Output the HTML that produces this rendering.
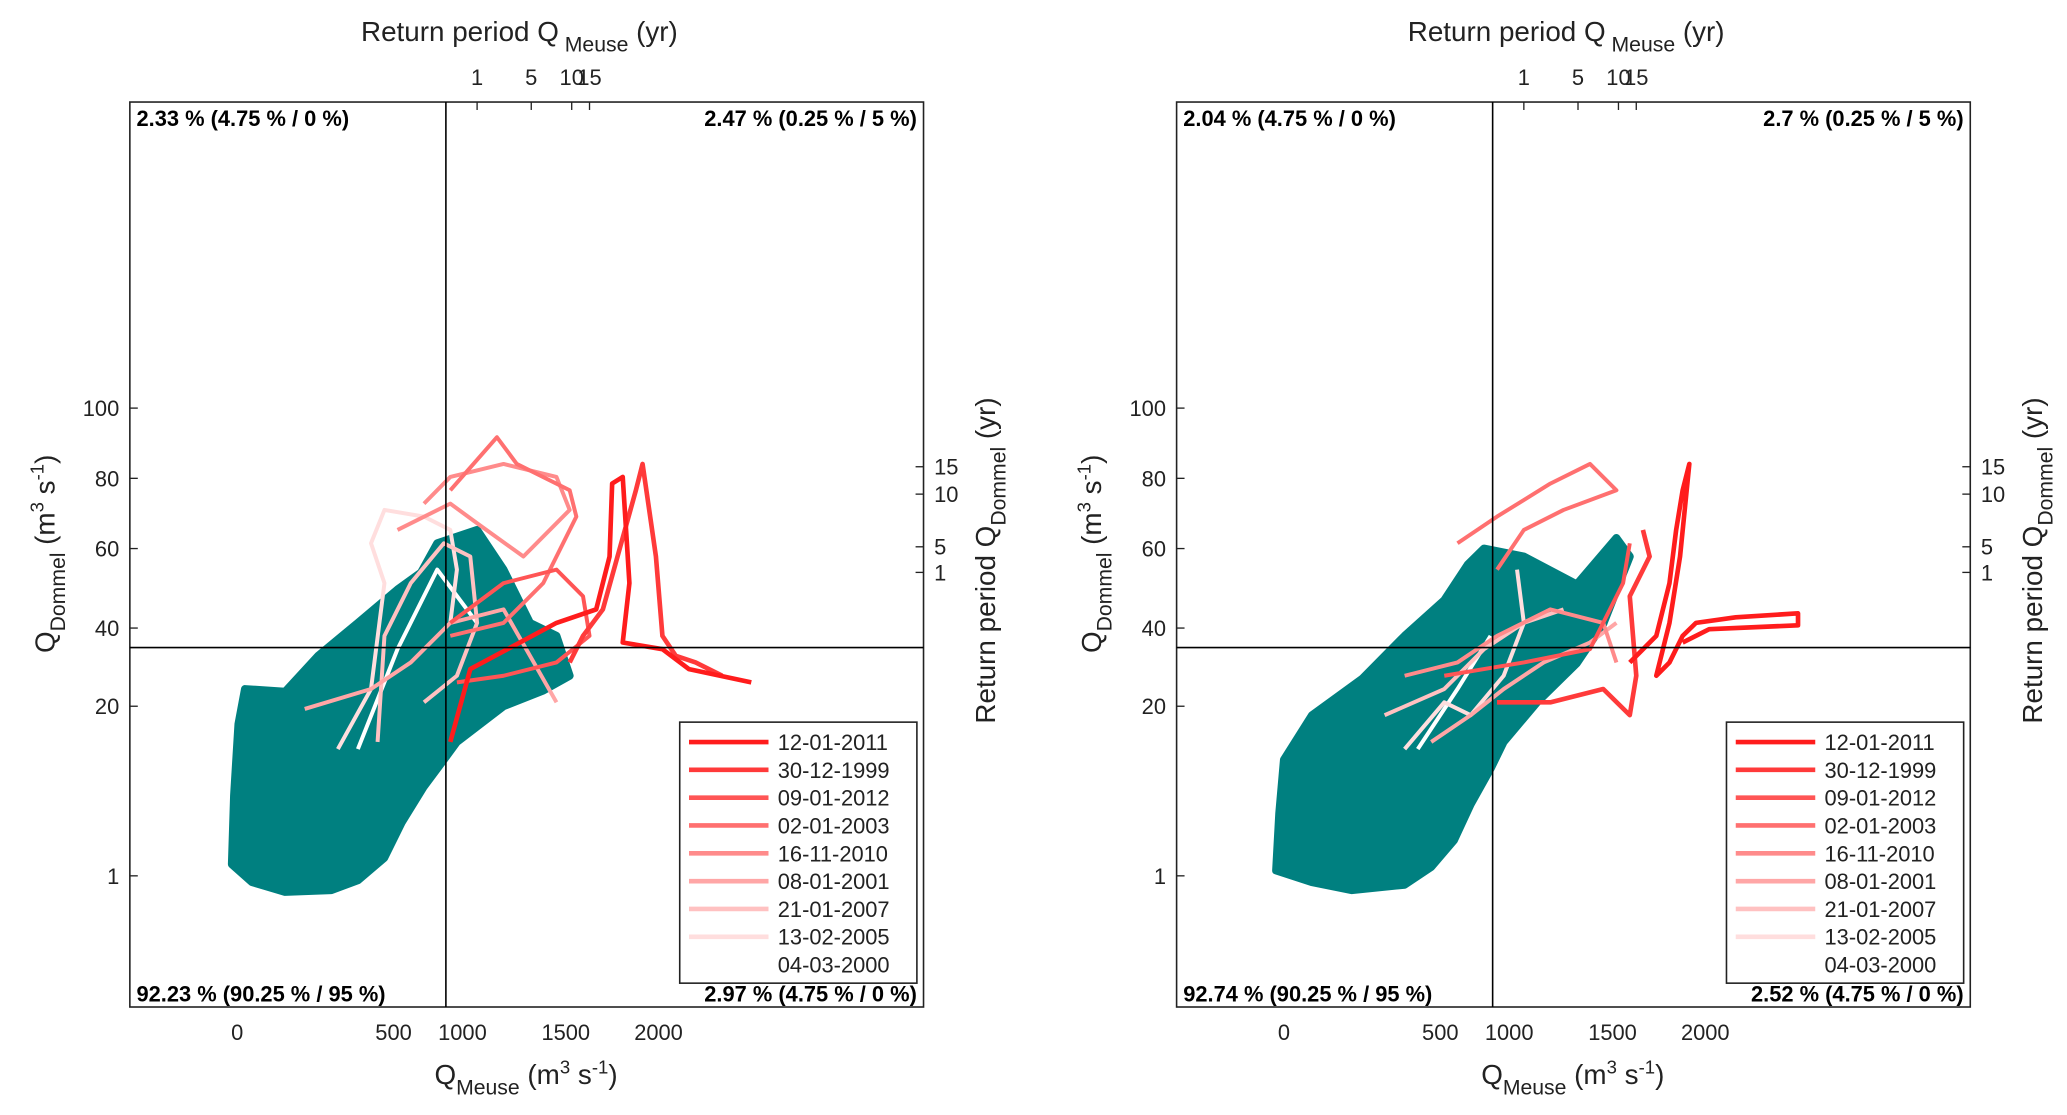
<!DOCTYPE html>
<html><head><meta charset="utf-8"><style>
html,body{margin:0;padding:0;background:#fff;}
svg{display:block;font-family:"Liberation Sans",Arial,sans-serif;}
</style></head><body>
<svg id="fig" width="2067" height="1115" viewBox="0 0 1560 841.5"></svg>
<script>
// ---- data ----
const xTickValues=[0,500,1000,1500,2000];
const xTickLabels=["0","500","1000","1500","2000"];
const yTickValues=[1,20,40,60,80,100];
const yTickLabels=["1","20","40","60","80","100"];
const topTickLabels=["1","5","10","15"];
const topTickValues=[1071,1333,1532,1628];
const rightTickLabels=["15","10","5","1"];
const rightTickValues=[83.3,75.5,60.5,54];
const eventNames=["12-01-2011","30-12-1999","09-01-2012","02-01-2003","16-11-2010","08-01-2001","21-01-2007","13-02-2005","04-03-2000"];
const eventColors=["#ff1c1c","#ff3a3a","#ff5555","#ff7070","#ff8b8b","#ffa6a6","#ffc1c1","#ffdede","#ffffff"];
const leftCorners=["2.33 % (4.75 % / 0 %)","2.47 % (0.25 % / 5 %)","92.23 % (90.25 % / 95 %)","2.97 % (4.75 % / 0 %)"];
const rightCorners=["2.04 % (4.75 % / 0 %)","2.7 % (0.25 % / 5 %)","92.74 % (90.25 % / 95 %)","2.52 % (4.75 % / 0 %)"];
const thresholdQMeuse=880;
const thresholdQDommel=35;
const leftCloud=[[-17,2.3],[-10,10],[4,18],[25,24.4],[153,23.7],[259,32.9],[386,41.3],[529,49.7],[700,54],[817,61.5],[1071,65.3],[1199,54.7],[1327,41.3],[1455,38],[1521,27.8],[1391,24],[1199,20],[960,16],[865,14],[720,11],[560,7],[470,3],[386,0.5],[301,-0.6],[153,-0.8],[47,0.3]];
const rightCloud=[[-25,1.6],[-15,8],[0,14],[90,19],[250,27],[386,38],[529,47],[700,56],[817,60],[1071,58],[1327,51],[1521,63],[1593,58],[1455,41],[1327,31],[1135,21],[960,16],[865,13],[720,9],[600,5],[471,2],[386,0],[216,-0.6],[89,0.3]];
const leftEvents=[
 [[912,16],[1038,29.5],[1455,41.3],[1664,44.7],[1736,58],[1750,78.5],[1807,80.4],[1843,51.3],[1807,36.3],[2021,34.6],[2164,29.5],[2500,26.1]],
 [[1521,31.2],[1593,38],[1700,44.7],[1878,76.6],[1914,84.1],[1986,58],[2021,38],[2093,32.9],[2200,31.2],[2343,27.8]],
 [[912,41.3],[1199,51.3],[1455,54.7],[1593,48],[1628,38],[1455,31.2],[1199,27.8],[960,26.1]],
 [[912,76.6],[1167,91.7],[1263,84.1],[1521,76.6],[1557,69.1],[1391,51.3],[1199,41.3],[912,38]],
 [[529,65.3],[912,72.8],[1071,67.2],[1295,58],[1521,71],[1455,80.4],[1199,84.1],[912,80.4],[721,72.8]],
 [[216,19.7],[428,24.4],[625,31.2],[912,41.3],[1199,44.7],[1455,21]],
 [[449,16],[471,38],[625,51.3],[865,61.5],[1038,58],[1071,41.3],[960,27.8],[721,21]],
 [[322,15.2],[428,24.4],[471,51.3],[428,61.5],[471,71],[721,69.1],[912,65.3],[960,54.7],[912,41.3]],
 [[386,15.2],[529,34.6],[817,54.7],[1071,41.3]]];
const rightEvents=[
 [[1593,31.2],[1736,38],[1807,51.3],[1843,65.3],[1878,76.6],[1914,84.1],[1864,58],[1807,41.3],[1736,27.8],[1807,31.2],[1878,38],[1950,41.3],[2164,42.7],[2500,43.7],[2500,40.7],[2021,39.7],[1878,36.3]],
 [[912,21],[1199,21],[1455,24.4],[1593,19],[1628,27.8],[1593,48],[1700,58],[1664,65.3]],
 [[529,27.8],[817,29.5],[1071,31.2],[1391,34.6],[1557,51.3],[1593,61.5]],
 [[625,61.5],[912,69.1],[1199,78.5],[1391,84.1],[1521,76.6],[1263,71],[1071,65.3],[912,54.7]],
 [[386,27.8],[625,31.2],[912,38],[1199,44.7],[1455,41.3],[1521,31.2]],
 [[471,16],[721,19],[960,24.4],[1167,31.2],[1391,36.3],[1521,41.3]],
 [[322,19],[529,24.4],[817,34.6],[1071,41.3],[1263,44.7]],
 [[386,15.2],[529,21],[721,19],[960,27.8],[1071,41.3],[1038,54.7]],
 [[428,15.2],[625,24.4],[865,38]]];

// ---- scales (piecewise, matching the reference's axis) ----
const xPix=[179,297,349,427,497];
const yPix=[661,533,474,414,361,308];
function pw(v,vals,pix){
  let i=0; if(v>vals[vals.length-1]) i=vals.length-2; else {while(i<vals.length-2 && v>vals[i+1]) i++;}
  return pix[i]+(v-vals[i])*(pix[i+1]-pix[i])/(vals[i+1]-vals[i]);
}
const NS="http://www.w3.org/2000/svg";
const svg=document.getElementById('fig');
function mk(tag,attrs,parent){const e=document.createElementNS(NS,tag);for(const k in attrs)e.setAttribute(k,attrs[k]);(parent||svg).appendChild(e);return e;}
function txt(s,x,y,size,anchor,parent,weight){const t=mk('text',{x:x,y:y,'font-size':size,'text-anchor':anchor||'middle',fill:'#222'},parent);if(weight)t.setAttribute('font-weight',weight);t.textContent=s;return t;}

function panel(off,cloud,events,corners,id){
  const g=mk('g',{transform:'translate('+off+',0)'});
  
  
  const X=v=>pw(v,xTickValues,xPix), Y=v=>pw(v,yTickValues,yPix);
  const c=mk('polygon',{points:cloud.map(p=>X(p[0])+','+Y(p[1])).join(' '),fill:'#008080',stroke:'#008080','stroke-width':6,'stroke-linejoin':'round'},g);
  
  
  for(let i=events.length-1;i>=0;i--){
    const l=mk('polyline',{points:events[i].map(p=>X(p[0])+','+Y(p[1])).join(' '),fill:'none',stroke:eventColors[i],'stroke-width':i<2?3.5:3,'stroke-linejoin':'round'},g);
    
    
  }
  const b=mk('rect',{x:98,y:77,width:599,height:683,fill:'none',stroke:'#222','stroke-width':1.2},g);
  
  
  const vl=mk('line',{x1:X(thresholdQMeuse),x2:X(thresholdQMeuse),y1:77,y2:760,stroke:'#000','stroke-width':1.2},g);
  
  
  const hl=mk('line',{x1:98,x2:697,y1:Y(thresholdQDommel),y2:Y(thresholdQDommel),stroke:'#000','stroke-width':1.2},g);
  
  
  xTickValues.forEach((v,i)=>{const t=txt(xTickLabels[i],X(v),785,16.5,'middle',g);
    
    });
  yTickValues.forEach((v,i)=>{mk('line',{x1:98,x2:104,y1:Y(v),y2:Y(v),stroke:'#222'},g);
    const t=txt(yTickLabels[i],90,Y(v)+6,16.5,'end',g);
    
    });
  topTickValues.forEach((v,i)=>{mk('line',{x1:X(v),x2:X(v),y1:77,y2:83,stroke:'#222'},g);
    const t=txt(topTickLabels[i],X(v),64,16.5,'middle',g);
    
    });
  rightTickValues.forEach((v,i)=>{mk('line',{x1:691,x2:697,y1:Y(v),y2:Y(v),stroke:'#222'},g);
    const t=txt(rightTickLabels[i],705,Y(v)+6,16.5,'start',g);
    
    });
  const tt=mk('text',{x:392,y:31,'font-size':21,'text-anchor':'middle',fill:'#222'},g);
  tt.innerHTML='Return period Q<tspan font-size="16" dy="8"> Meuse</tspan><tspan dy="-8"> (yr)</tspan>';
  
  
  const xt=mk('text',{x:397,y:818,'font-size':21,'text-anchor':'middle',fill:'#222'},g);
  xt.innerHTML='Q<tspan font-size="16" dy="8">Meuse</tspan><tspan dy="-8"> (m</tspan><tspan font-size="14" dy="-8">3</tspan><tspan dy="8"> s</tspan><tspan font-size="14" dy="-8">-1</tspan><tspan dy="8">)</tspan>';
  
  
  const yt=mk('text',{x:0,y:0,'font-size':21,'text-anchor':'middle',fill:'#222',transform:'translate(41,418) rotate(-90)'},g);
  yt.innerHTML='Q<tspan font-size="16" dy="8">Dommel</tspan><tspan dy="-8"> (m</tspan><tspan font-size="14" dy="-8">3</tspan><tspan dy="8"> s</tspan><tspan font-size="14" dy="-8">-1</tspan><tspan dy="8">)</tspan>';
  
  
  const rt=mk('text',{x:0,y:0,'font-size':21,'text-anchor':'middle',fill:'#222',transform:'translate(751,423) rotate(-90)'},g);
  rt.innerHTML='Return period Q<tspan font-size="16" dy="8">Dommel</tspan><tspan dy="-8"> (yr)</tspan>';
  
  
  const cpos=[[103,95,'start'],[692,95,'end'],[103,756,'start'],[692,756,'end']];
  corners.forEach((s,i)=>{const t=txt(s,cpos[i][0],cpos[i][1],16.5,cpos[i][2],g,'bold');t.setAttribute('fill','#000');
    
    });
  const lg=mk('g',{},g);
  
  
  mk('rect',{x:513,y:545,width:179,height:197,fill:'#fff',stroke:'#222','stroke-width':1.2},lg);
  eventNames.forEach((n,i)=>{const yy=560+i*21;
    const e=mk('g',{},lg);
    
    
    mk('line',{x1:520,x2:580,y1:yy,y2:yy,stroke:eventColors[i],'stroke-width':3.5},e);
    txt(n,587,yy+6,16.5,'start',e);});
}
panel(0,leftCloud,leftEvents,leftCorners,'left-panel');
panel(790,rightCloud,rightEvents,rightCorners,'right-panel');
</script>
</body></html>
